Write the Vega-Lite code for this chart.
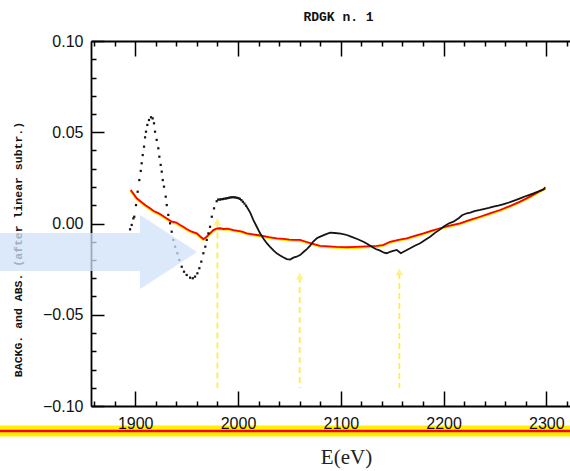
{
  "$schema": "https://vega.github.io/schema/vega-lite/v6.json",
  "width": 479,
  "height": 365,
  "autosize": {"type": "none"},
  "padding": {"left": 91, "top": 41, "right": 0, "bottom": 65},
  "background": "white",
  "title": {
    "text": "RDGK n. 1",
    "font": "Liberation Mono",
    "fontSize": 13,
    "fontWeight": "bold",
    "color": "#111",
    "anchor": "middle",
    "dx": 8,
    "dy": 19,
    "baseline": "bottom",
    "offset": 15
  },
  "config": {
    "view": {"stroke": null},
    "axis": {
      "grid": false,
      "domainColor": "#000",
      "domainWidth": 1.8,
      "tickColor": "#000",
      "tickWidth": 1.5,
      "labelFont": "Liberation Sans",
      "labelFontSize": 16,
      "labelColor": "#111"
    }
  },
  "datasets": {
    "dots": [
      {"E": 1895.0, "V": -0.0032}, {"E": 1896.6, "V": -0.0008}, {"E": 1898.2, "V": 0.0028}, {"E": 1899.1, "V": 0.0037},
      {"E": 1900.8, "V": 0.0101}, {"E": 1902.4, "V": 0.0174}, {"E": 1904.0, "V": 0.0238}, {"E": 1905.4, "V": 0.0288},
      {"E": 1906.3, "V": 0.0330}, {"E": 1907.3, "V": 0.0375}, {"E": 1908.6, "V": 0.0421}, {"E": 1909.6, "V": 0.0472},
      {"E": 1910.5, "V": 0.0503}, {"E": 1911.8, "V": 0.0540}, {"E": 1913.4, "V": 0.0567}, {"E": 1915.4, "V": 0.0582},
      {"E": 1917.0, "V": 0.0576}, {"E": 1918.3, "V": 0.0549}, {"E": 1919.3, "V": 0.0503}, {"E": 1920.9, "V": 0.0458},
      {"E": 1922.5, "V": 0.0412}, {"E": 1923.5, "V": 0.0366}, {"E": 1924.8, "V": 0.0321}, {"E": 1925.8, "V": 0.0284},
      {"E": 1926.8, "V": 0.0238}, {"E": 1928.0, "V": 0.0202}, {"E": 1929.7, "V": 0.0147}, {"E": 1930.7, "V": 0.0101},
      {"E": 1932.2, "V": 0.0047}, {"E": 1933.9, "V": 0.0001}, {"E": 1935.5, "V": -0.0045}, {"E": 1937.1, "V": -0.0090},
      {"E": 1938.8, "V": -0.0127}, {"E": 1941.0, "V": -0.0163}, {"E": 1942.9, "V": -0.0200}, {"E": 1945.3, "V": -0.0237},
      {"E": 1947.5, "V": -0.0264}, {"E": 1950.1, "V": -0.0282}, {"E": 1953.4, "V": -0.0297}, {"E": 1956.0, "V": -0.0300},
      {"E": 1958.2, "V": -0.0291}, {"E": 1960.5, "V": -0.0273}, {"E": 1962.4, "V": -0.0245}, {"E": 1964.3, "V": -0.0209},
      {"E": 1966.3, "V": -0.0163}, {"E": 1968.2, "V": -0.0127}, {"E": 1969.6, "V": -0.0090}, {"E": 1971.2, "V": -0.0054},
      {"E": 1972.8, "V": -0.0018}, {"E": 1974.5, "V": 0.0037}, {"E": 1976.7, "V": 0.0083}, {"E": 1979.3, "V": 0.0122},
      {"E": 1980.8, "V": 0.0131}, {"E": 1982.3, "V": 0.0131}, {"E": 1983.8, "V": 0.0133}, {"E": 1985.3, "V": 0.0134},
      {"E": 1986.8, "V": 0.0136}, {"E": 1988.3, "V": 0.0137}, {"E": 1989.8, "V": 0.0139}, {"E": 1991.3, "V": 0.0141},
      {"E": 1992.8, "V": 0.0143}, {"E": 1994.3, "V": 0.0144}, {"E": 1995.8, "V": 0.0144}, {"E": 1997.3, "V": 0.0143},
      {"E": 1998.8, "V": 0.0141}, {"E": 2000.3, "V": 0.0139}, {"E": 2001.8, "V": 0.0135}, {"E": 2003.3, "V": 0.0128},
      {"E": 2004.8, "V": 0.0119}, {"E": 2006.3, "V": 0.0109}, {"E": 2007.8, "V": 0.0098}
    ],
    "black": [
      {"E": 2007.8, "V": 0.0098}, {"E": 2010, "V": 0.0078}, {"E": 2012, "V": 0.0058}, {"E": 2015, "V": 0.0019},
      {"E": 2018, "V": -0.0015}, {"E": 2021.5, "V": -0.0054}, {"E": 2025, "V": -0.0085}, {"E": 2028, "V": -0.0108},
      {"E": 2031, "V": -0.0127}, {"E": 2035, "V": -0.0150}, {"E": 2038, "V": -0.0165}, {"E": 2041, "V": -0.0175},
      {"E": 2044, "V": -0.0185}, {"E": 2047.5, "V": -0.0195}, {"E": 2050.7, "V": -0.0198}, {"E": 2053.9, "V": -0.0187},
      {"E": 2057, "V": -0.0182}, {"E": 2060.4, "V": -0.0173}, {"E": 2064, "V": -0.0155}, {"E": 2067, "V": -0.0140},
      {"E": 2070, "V": -0.0123}, {"E": 2073, "V": -0.0100}, {"E": 2076.7, "V": -0.0081}, {"E": 2080, "V": -0.0072},
      {"E": 2084, "V": -0.0062}, {"E": 2089.6, "V": -0.0050}, {"E": 2094, "V": -0.0052}, {"E": 2100, "V": -0.0055},
      {"E": 2105.9, "V": -0.0063}, {"E": 2110, "V": -0.0072}, {"E": 2116, "V": -0.0085}, {"E": 2122, "V": -0.0100},
      {"E": 2126, "V": -0.0112}, {"E": 2130.2, "V": -0.0127}, {"E": 2134, "V": -0.0140}, {"E": 2138.3, "V": -0.0149},
      {"E": 2142, "V": -0.0160}, {"E": 2144.8, "V": -0.0163}, {"E": 2148, "V": -0.0155}, {"E": 2151, "V": -0.0150},
      {"E": 2154.5, "V": -0.0145}, {"E": 2158.4, "V": -0.0163}, {"E": 2162, "V": -0.0152}, {"E": 2167.5, "V": -0.0136},
      {"E": 2172, "V": -0.0122}, {"E": 2177.2, "V": -0.0108}, {"E": 2182, "V": -0.0090}, {"E": 2186.9, "V": -0.0072},
      {"E": 2192, "V": -0.0050}, {"E": 2196, "V": -0.0035}, {"E": 2199.9, "V": -0.0018}, {"E": 2205, "V": 0.0000},
      {"E": 2209.6, "V": 0.0010}, {"E": 2215, "V": 0.0030}, {"E": 2218, "V": 0.0045}, {"E": 2222.6, "V": 0.0056},
      {"E": 2226, "V": 0.0060}, {"E": 2230, "V": 0.0068}, {"E": 2235.6, "V": 0.0074}, {"E": 2240, "V": 0.0080},
      {"E": 2244, "V": 0.0085}, {"E": 2248.5, "V": 0.0092}, {"E": 2253, "V": 0.0098}, {"E": 2257, "V": 0.0104},
      {"E": 2261.6, "V": 0.0111}, {"E": 2266, "V": 0.0120}, {"E": 2270, "V": 0.0128}, {"E": 2274.5, "V": 0.0138},
      {"E": 2279, "V": 0.0148}, {"E": 2283, "V": 0.0156}, {"E": 2287.5, "V": 0.0165}, {"E": 2292, "V": 0.0175},
      {"E": 2297.2, "V": 0.0187}, {"E": 2299, "V": 0.0192}
    ],
    "red": [
      {"E": 1895.6, "V": 0.0184}, {"E": 1898, "V": 0.0165}, {"E": 1901.5, "V": 0.0138}, {"E": 1905, "V": 0.0122},
      {"E": 1910, "V": 0.0100}, {"E": 1914.4, "V": 0.0083}, {"E": 1918, "V": 0.0068}, {"E": 1922, "V": 0.0058},
      {"E": 1926, "V": 0.0045}, {"E": 1930.7, "V": 0.0028}, {"E": 1935, "V": 0.0012}, {"E": 1940, "V": 0.0005},
      {"E": 1944, "V": -0.0010}, {"E": 1946.8, "V": -0.0018}, {"E": 1950, "V": -0.0030}, {"E": 1955, "V": -0.0045},
      {"E": 1959.9, "V": -0.0054}, {"E": 1963, "V": -0.0070}, {"E": 1966.3, "V": -0.0085}, {"E": 1969, "V": -0.0075},
      {"E": 1972.8, "V": -0.0054}, {"E": 1976, "V": -0.0036}, {"E": 1979, "V": -0.0028}, {"E": 1982.5, "V": -0.0026},
      {"E": 1986, "V": -0.0030}, {"E": 1990, "V": -0.0028}, {"E": 1995.5, "V": -0.0036}, {"E": 2000, "V": -0.0040},
      {"E": 2004, "V": -0.0045}, {"E": 2008.5, "V": -0.0054}, {"E": 2013, "V": -0.0058}, {"E": 2018.3, "V": -0.0063},
      {"E": 2024, "V": -0.0068}, {"E": 2030, "V": -0.0075}, {"E": 2037.7, "V": -0.0081}, {"E": 2044, "V": -0.0084},
      {"E": 2050, "V": -0.0088}, {"E": 2055, "V": -0.0090}, {"E": 2060.4, "V": -0.0090}, {"E": 2066, "V": -0.0100},
      {"E": 2072, "V": -0.0110}, {"E": 2079.9, "V": -0.0123}, {"E": 2088, "V": -0.0125}, {"E": 2096, "V": -0.0128},
      {"E": 2105.9, "V": -0.0130}, {"E": 2115, "V": -0.0128}, {"E": 2125, "V": -0.0125}, {"E": 2135, "V": -0.0123},
      {"E": 2141, "V": -0.0118}, {"E": 2148, "V": -0.0100}, {"E": 2156, "V": -0.0090}, {"E": 2164.2, "V": -0.0081},
      {"E": 2172, "V": -0.0068}, {"E": 2180.4, "V": -0.0054}, {"E": 2188, "V": -0.0040}, {"E": 2196.7, "V": -0.0026},
      {"E": 2206, "V": -0.0012}, {"E": 2216.1, "V": 0.0001}, {"E": 2225, "V": 0.0018}, {"E": 2235.6, "V": 0.0037},
      {"E": 2245, "V": 0.0055}, {"E": 2255, "V": 0.0074}, {"E": 2265, "V": 0.0097}, {"E": 2274.5, "V": 0.0120},
      {"E": 2285, "V": 0.0150}, {"E": 2293, "V": 0.0175}, {"E": 2297.2, "V": 0.0187}, {"E": 2299, "V": 0.0200}
    ],
    "yellow": [
      {"E": 1895.6, "V": 0.0180}, {"E": 1898, "V": 0.0162}, {"E": 1901.5, "V": 0.0134}, {"E": 1905, "V": 0.0118},
      {"E": 1910, "V": 0.0096}, {"E": 1914.4, "V": 0.0079}, {"E": 1918, "V": 0.0064}, {"E": 1922, "V": 0.0054},
      {"E": 1926, "V": 0.0041}, {"E": 1930.7, "V": 0.0024}, {"E": 1935, "V": 0.0008}, {"E": 1940, "V": 0.0000},
      {"E": 1944, "V": -0.0014}, {"E": 1946.8, "V": -0.0022}, {"E": 1950, "V": -0.0034}, {"E": 1955, "V": -0.0049},
      {"E": 1959.9, "V": -0.0058}, {"E": 1963, "V": -0.0074}, {"E": 1966.3, "V": -0.0088}, {"E": 1969, "V": -0.0078},
      {"E": 1972.8, "V": -0.0058}, {"E": 1976, "V": -0.0040}, {"E": 1979, "V": -0.0031}, {"E": 1982.5, "V": -0.0029},
      {"E": 1986, "V": -0.0033}, {"E": 1990, "V": -0.0031}, {"E": 1995.5, "V": -0.0039}, {"E": 2000, "V": -0.0043},
      {"E": 2004, "V": -0.0048}, {"E": 2008.5, "V": -0.0057}, {"E": 2013, "V": -0.0061}, {"E": 2018.3, "V": -0.0066},
      {"E": 2024, "V": -0.0071}, {"E": 2030, "V": -0.0078}, {"E": 2037.7, "V": -0.0084}, {"E": 2044, "V": -0.0087},
      {"E": 2050, "V": -0.0091}, {"E": 2055, "V": -0.0093}, {"E": 2060.4, "V": -0.0094}, {"E": 2066, "V": -0.0103},
      {"E": 2072, "V": -0.0113}, {"E": 2079.9, "V": -0.0126}, {"E": 2088, "V": -0.0129}, {"E": 2096, "V": -0.0131},
      {"E": 2105.9, "V": -0.0133}, {"E": 2115, "V": -0.0132}, {"E": 2125, "V": -0.0129}, {"E": 2135, "V": -0.0127},
      {"E": 2141, "V": -0.0121}, {"E": 2148, "V": -0.0104}, {"E": 2156, "V": -0.0093}, {"E": 2164.2, "V": -0.0084},
      {"E": 2172, "V": -0.0071}, {"E": 2180.4, "V": -0.0057}, {"E": 2188, "V": -0.0043}, {"E": 2196.7, "V": -0.0029},
      {"E": 2206, "V": -0.0015}, {"E": 2216.1, "V": -0.0002}, {"E": 2225, "V": 0.0015}, {"E": 2235.6, "V": 0.0034},
      {"E": 2245, "V": 0.0052}, {"E": 2255, "V": 0.0071}, {"E": 2265, "V": 0.0094}, {"E": 2274.5, "V": 0.0117},
      {"E": 2285, "V": 0.0147}, {"E": 2293, "V": 0.0172}, {"E": 2298, "V": 0.0187}
    ],
    "markers": [
      {"E": 1980, "top": 0.0005},
      {"E": 2060, "top": -0.0293},
      {"E": 2157, "top": -0.0271}
    ],
    "pointer": [
      {"E": 1768.4, "hi": -0.0052, "lo": -0.0260},
      {"E": 1904.6, "hi": -0.0052, "lo": -0.0260},
      {"E": 1904.8, "hi": 0.0047, "lo": -0.0359},
      {"E": 1960.2, "hi": -0.0156, "lo": -0.0156}
    ],
    "band": [
      {"E0": 1768, "E1": 2340, "level": -0.1137}
    ]
  },
  "layer": [
    {
      "data": {"name": "band"},
      "mark": {"type": "rule", "color": "#fff000", "strokeWidth": 11},
      "encoding": {
        "x": {"field": "E0", "type": "quantitative", "scale": {"domain": [1857, 2323], "nice": false, "zero": false}, "axis": null},
        "x2": {"field": "E1"},
        "y": {"field": "level", "type": "quantitative", "scale": {"domain": [-0.1, 0.1], "nice": false, "zero": false}, "axis": null}
      }
    },
    {
      "data": {"name": "band"},
      "mark": {"type": "rule", "color": "#ff0000", "strokeWidth": 2.5},
      "encoding": {
        "x": {"field": "E0", "type": "quantitative", "scale": {"domain": [1857, 2323], "nice": false, "zero": false}, "axis": null},
        "x2": {"field": "E1"},
        "y": {"field": "level", "type": "quantitative", "scale": {"domain": [-0.1, 0.1], "nice": false, "zero": false}, "axis": null}
      }
    },
    {
      "data": {"name": "markers"},
      "mark": {"type": "rule", "color": "#ffee44", "strokeWidth": 1.8, "strokeDash": [6, 4]},
      "encoding": {
        "x": {"field": "E", "type": "quantitative", "scale": {"domain": [1857, 2323], "nice": false, "zero": false}, "axis": null},
        "y": {"field": "top", "type": "quantitative", "scale": {"domain": [-0.1, 0.1], "nice": false, "zero": false}, "axis": null},
        "y2": {"datum": -0.0901}
      }
    },
    {
      "data": {"name": "markers"},
      "mark": {"type": "point", "shape": "M-1,1L0,-1L1,1", "filled": false, "color": "#ffee44", "strokeWidth": 1.6, "size": 30},
      "encoding": {
        "x": {"field": "E", "type": "quantitative", "scale": {"domain": [1857, 2323], "nice": false, "zero": false}, "axis": null},
        "y": {"field": "top", "type": "quantitative", "scale": {"domain": [-0.1, 0.1], "nice": false, "zero": false}, "axis": null}
      }
    },
    {
      "data": {"name": "yellow"},
      "mark": {"type": "line", "color": "#ffee00", "strokeWidth": 2.6},
      "encoding": {
        "x": {"field": "E", "type": "quantitative", "scale": {"domain": [1857, 2323], "nice": false, "zero": false},
              "axis": {"orient": "top", "labels": false, "title": null, "values": [1900, 2000, 2100, 2200, 2300], "tickSize": -15}},
        "y": {"field": "V", "type": "quantitative", "scale": {"domain": [-0.1, 0.1], "nice": false, "zero": false},
              "axis": {"orient": "left", "labels": false, "title": null, "domain": false, "tickSize": -5,
                       "values": [-0.09, -0.08, -0.07, -0.06, -0.04, -0.03, -0.02, -0.01, 0.01, 0.02, 0.03, 0.04, 0.06, 0.07, 0.08, 0.09]}}
      }
    },
    {
      "data": {"name": "red"},
      "mark": {"type": "line", "color": "#ff0000", "strokeWidth": 1.8},
      "encoding": {
        "x": {"field": "E", "type": "quantitative", "scale": {"domain": [1857, 2323], "nice": false, "zero": false},
              "axis": {"orient": "top", "labels": false, "title": null, "domain": false, "tickSize": -5,
                       "values": [1860, 1880, 1920, 1940, 1960, 1980, 2020, 2040, 2060, 2080, 2120, 2140, 2160, 2180, 2220, 2240, 2260, 2280, 2320]}},
        "y": {"field": "V", "type": "quantitative", "scale": {"domain": [-0.1, 0.1], "nice": false, "zero": false}, "axis": null}
      }
    },
    {
      "data": {"name": "black"},
      "mark": {"type": "line", "color": "#151515", "strokeWidth": 1.8},
      "encoding": {
        "x": {"field": "E", "type": "quantitative", "scale": {"domain": [1857, 2323], "nice": false, "zero": false},
              "axis": {"orient": "bottom", "labels": false, "title": null, "domain": false, "tickSize": -5,
                       "values": [1860, 1880, 1920, 1940, 1960, 1980, 2020, 2040, 2060, 2080, 2120, 2140, 2160, 2180, 2220, 2240, 2260, 2280, 2320]}},
        "y": {"field": "V", "type": "quantitative", "scale": {"domain": [-0.1, 0.1], "nice": false, "zero": false}, "axis": null}
      }
    },
    {
      "data": {"name": "dots"},
      "mark": {"type": "point", "shape": "square", "filled": true, "color": "#151515", "size": 5, "opacity": 1},
      "encoding": {
        "x": {"field": "E", "type": "quantitative", "scale": {"domain": [1857, 2323], "nice": false, "zero": false},
              "axis": {"orient": "bottom", "zindex": 1, "values": [1900, 2000, 2100, 2200, 2300], "format": "d",
                       "tickSize": -15, "labelPadding": 24, "labelFlush": false,
                       "title": "E(eV)", "titleFont": "Liberation Serif", "titleFontSize": 21, "titleFontWeight": "normal",
                       "titleColor": "#222", "titleX": 255, "titleY": 51, "titleAlign": "center", "titleBaseline": "middle"}},
        "y": {"field": "V", "type": "quantitative", "scale": {"domain": [-0.1, 0.1], "nice": false, "zero": false},
              "axis": {"orient": "left", "values": [-0.1, -0.05, 0, 0.05, 0.1], "format": ".2f",
                       "tickSize": -13, "labelPadding": 21,
                       "title": "BACKG. and ABS. (after linear subtr.)", "titleFont": "Liberation Mono", "titleFontSize": 11.5,
                       "titleFontWeight": "bold", "titleColor": "#111", "titleAngle": 270, "titleX": -73, "titleY": 208,
                       "titleAlign": "center", "titleBaseline": "middle"}}
      }
    },
    {
      "data": {"name": "pointer"},
      "mark": {"type": "area", "orient": "vertical", "color": "#cfe2fa", "opacity": 0.75, "interpolate": "linear"},
      "encoding": {
        "x": {"field": "E", "type": "quantitative", "scale": {"domain": [1857, 2323], "nice": false, "zero": false}, "axis": null},
        "y": {"field": "hi", "type": "quantitative", "scale": {"domain": [-0.1, 0.1], "nice": false, "zero": false}, "axis": null},
        "y2": {"field": "lo"}
      }
    }
  ],
  "resolve": {"axis": {"x": "independent", "y": "independent"}}
}
